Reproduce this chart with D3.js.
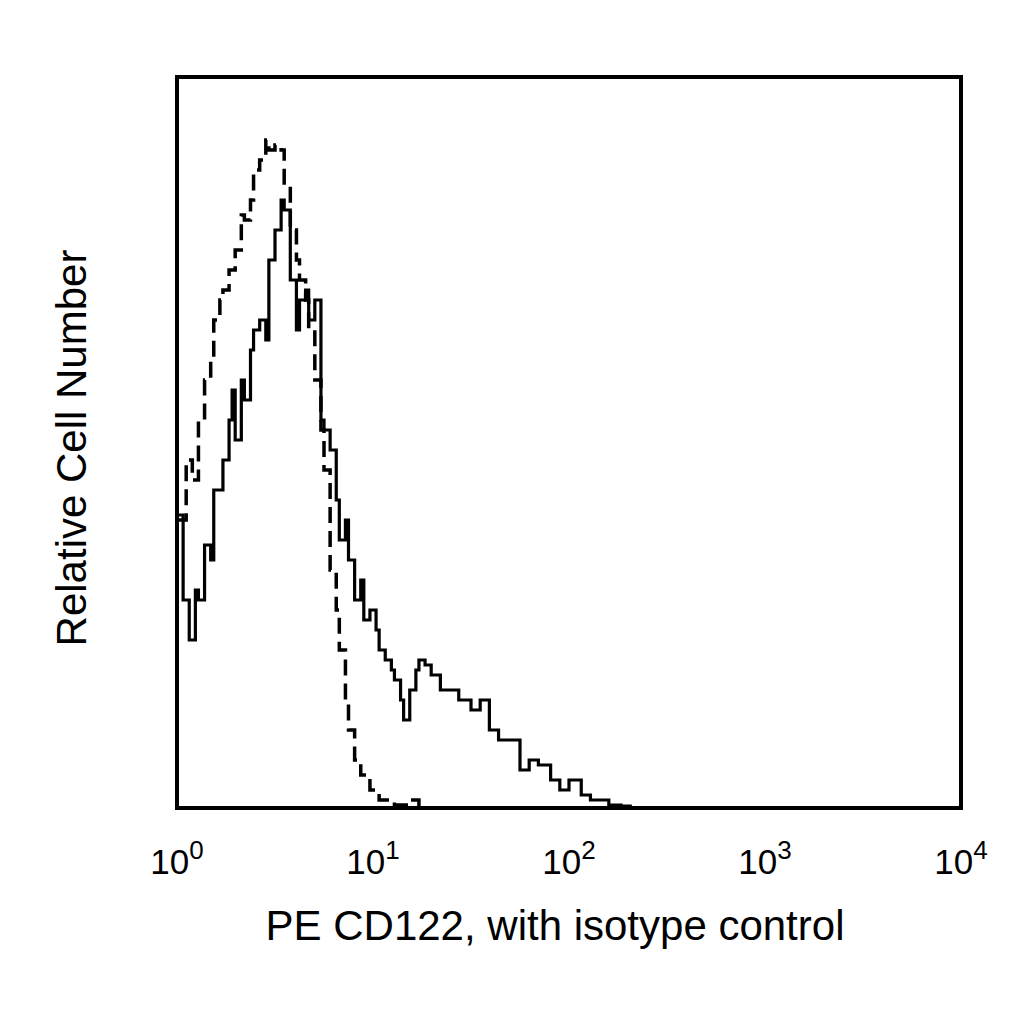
<!DOCTYPE html>
<html><head><meta charset="utf-8">
<script src="https://cdn.jsdelivr.net/npm/d3@7"></script>
<style>body{margin:0;background:#fff}</style></head>
<body><svg id="c" width="1024" height="1024"></svg>
<script>
// channels (256 channels over 4 decades), counts
const solidCh = [0,2,4,6,7,9,11,12,15,17,18,19,21,22,24,25,27,29,30,32,34,35,37,39,40,42,43,45,47,48,50,52,53,55,56,58,60,61,63,65,66,68,70,71,73,74,76,78,79,81,83,86,89,92,96,99,102,105,109,112,115,118,122,125,128,132,135,138,141,145,148,200,256];
const solidCount = [293,208,168,218,208,263,248,318,348,388,418,368,428,408,458,478,488,468,548,578,608,598,528,478,508,518,488,508,388,378,358,308,268,288,248,208,228,188,198,178,158,148,138,128,108,88,118,138,148,143,133,118,118,108,98,108,78,68,68,38,48,43,28,18,28,13,8,8,3,2,0,0,0];
const dashCh = [0,3,5,7,9,11,12,14,15,17,19,21,22,24,25,27,29,30,32,34,35,37,39,40,42,43,45,47,48,50,52,53,55,56,58,60,63,66,71,76,79,256];
const dashCount = [288,348,328,388,428,448,488,508,518,538,558,593,588,608,638,648,668,658,663,658,623,578,548,528,508,478,428,378,338,238,198,158,108,78,48,33,18,8,3,8,0,0];
const tickExp = [0,1,2,3,4];
const xLabel = "PE CD122, with isotype control";
const yLabel = "Relative Cell Number";

const svg = d3.select("#c");
const L=177,R=961,T=77,B=808;
const x = d3.scaleLog().domain([1,1e4]).range([L,R]);
const y = d3.scaleLinear().domain([0,731]).range([B,T]);
const chToVal = c => Math.pow(10, c/64);
const line = d3.line().x(d=>x(chToVal(d[0]))).y(d=>y(d[1])).curve(d3.curveStepAfter);
const FF = "Liberation Sans, Arial, sans-serif";

svg.append("path").datum(dashCh.map((c,i)=>[c,dashCount[i]]))
  .attr("d",line).attr("fill","none").attr("stroke","#000").attr("stroke-width",3.5).attr("stroke-dasharray","16,8");
svg.append("path").datum(solidCh.map((c,i)=>[c,solidCount[i]]))
  .attr("d",line).attr("fill","none").attr("stroke","#000").attr("stroke-width",3.2);

svg.append("rect").attr("x",L).attr("y",T).attr("width",R-L).attr("height",B-T)
  .attr("fill","none").attr("stroke","#000").attr("stroke-width",4);

const ax = svg.append("g").attr("transform",`translate(0,${B})`)
  .call(d3.axisBottom(x).tickValues(tickExp.map(e=>Math.pow(10,e))).tickSize(0).tickFormat(""));
ax.select(".domain").remove();
tickExp.forEach(e=>{
  const t = svg.append("text").attr("x",x(Math.pow(10,e))).attr("y",874).attr("text-anchor","middle")
    .attr("font-family",FF).attr("font-size",35);
  t.append("tspan").text("10");
  t.append("tspan").attr("dy",-15).attr("font-size",26).text(e);
});
svg.append("text").attr("x",555).attr("y",940).attr("text-anchor","middle")
  .attr("font-family",FF).attr("font-size",42).text(xLabel);
svg.append("text").attr("transform","translate(86,448) rotate(-90)").attr("text-anchor","middle")
  .attr("font-family",FF).attr("font-size",42).text(yLabel);
</script></body></html>
